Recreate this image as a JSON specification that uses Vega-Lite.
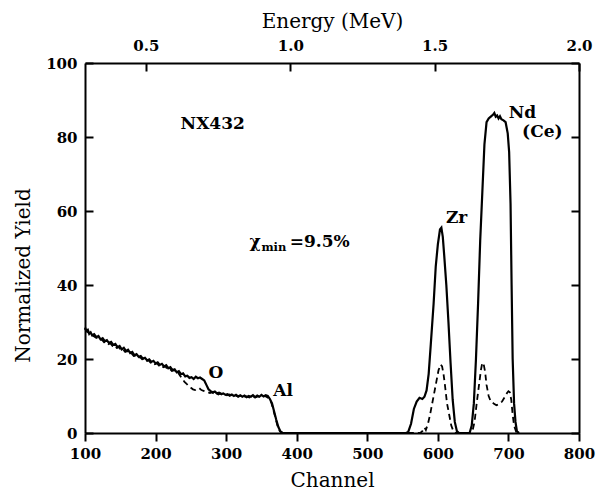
{
  "$schema": "https://vega.github.io/schema/vega-lite/v6.json",
  "width": 494,
  "height": 370,
  "autosize": "none",
  "padding": {"left": 85, "top": 63, "right": 21, "bottom": 60},
  "background": "white",
  "config": {
    "view": {"stroke": null},
    "axis": {
      "labelFont": "DejaVu Serif", "labelFontWeight": "bold", "labelFontSize": 15, "labelColor": "black",
      "titleFont": "DejaVu Serif", "titleFontWeight": "normal", "titleFontSize": 20, "titleColor": "black",
      "domainColor": "black", "domainWidth": 2, "tickColor": "black", "tickWidth": 2,
      "grid": false, "labelFlush": false, "labelOverlap": false
    },
    "text": {"font": "DejaVu Serif", "fontWeight": "bold", "color": "black"}
  },
  "datasets": {
    "solid": [
      {"ch":100,"y":28.5},{"ch":102,"y":27.6},{"ch":104,"y":27.9},{"ch":106,"y":26.8},{"ch":108,"y":27.2},{"ch":110,"y":26.4},
      {"ch":113,"y":26.7},{"ch":116,"y":25.9},{"ch":119,"y":26.2},{"ch":122,"y":25.3},{"ch":125,"y":25.6},{"ch":128,"y":24.8},
      {"ch":131,"y":25.1},{"ch":134,"y":24.3},{"ch":137,"y":24.6},{"ch":140,"y":23.8},{"ch":143,"y":24.1},{"ch":146,"y":23.2},
      {"ch":149,"y":23.5},{"ch":152,"y":22.6},{"ch":155,"y":23.0},{"ch":158,"y":22.2},{"ch":161,"y":22.5},{"ch":164,"y":21.6},
      {"ch":167,"y":21.9},{"ch":170,"y":21.0},{"ch":173,"y":21.3},{"ch":176,"y":20.6},{"ch":179,"y":20.8},{"ch":182,"y":20.1},
      {"ch":185,"y":20.3},{"ch":188,"y":19.6},{"ch":191,"y":19.9},{"ch":194,"y":19.2},{"ch":197,"y":19.5},{"ch":200,"y":18.8},
      {"ch":203,"y":19.1},{"ch":206,"y":18.4},{"ch":209,"y":18.7},{"ch":212,"y":18.0},{"ch":215,"y":18.3},{"ch":218,"y":17.5},
      {"ch":221,"y":17.8},{"ch":224,"y":17.0},{"ch":227,"y":17.2},{"ch":230,"y":16.4},{"ch":233,"y":16.7},{"ch":236,"y":15.9},
      {"ch":239,"y":16.1},{"ch":242,"y":15.3},{"ch":245,"y":15.5},{"ch":248,"y":14.9},{"ch":251,"y":15.1},{"ch":254,"y":14.6},
      {"ch":257,"y":15.2},{"ch":260,"y":14.8},{"ch":263,"y":15.0},{"ch":266,"y":14.6},{"ch":269,"y":14.2},{"ch":272,"y":13.0},
      {"ch":275,"y":11.8},{"ch":278,"y":11.3},{"ch":281,"y":11.0},{"ch":284,"y":11.2},{"ch":287,"y":10.7},{"ch":290,"y":10.9},
      {"ch":293,"y":10.5},{"ch":296,"y":10.7},{"ch":299,"y":10.3},{"ch":302,"y":10.5},{"ch":305,"y":10.1},{"ch":308,"y":10.4},
      {"ch":311,"y":10.0},{"ch":314,"y":10.3},{"ch":317,"y":9.9},{"ch":320,"y":10.2},{"ch":323,"y":9.8},{"ch":326,"y":10.1},
      {"ch":329,"y":9.7},{"ch":332,"y":10.0},{"ch":335,"y":9.8},{"ch":338,"y":10.2},{"ch":341,"y":9.7},{"ch":344,"y":10.1},
      {"ch":347,"y":9.8},{"ch":350,"y":10.3},{"ch":353,"y":9.9},{"ch":356,"y":10.2},{"ch":359,"y":10.0},{"ch":362,"y":9.2},
      {"ch":365,"y":8.0},{"ch":368,"y":5.8},{"ch":371,"y":3.6},{"ch":374,"y":1.6},{"ch":377,"y":0.4},{"ch":380,"y":0},
      {"ch":555,"y":0},{"ch":558,"y":0.3},{"ch":562,"y":2.5},{"ch":566,"y":6.5},{"ch":570,"y":8.5},{"ch":574,"y":9.5},
      {"ch":578,"y":9.2},{"ch":581,"y":9.8},{"ch":584,"y":11.5},{"ch":587,"y":16},{"ch":590,"y":24},{"ch":594,"y":35},
      {"ch":597,"y":45},{"ch":600,"y":51},{"ch":603,"y":55},{"ch":605,"y":55.5},{"ch":607,"y":53},{"ch":609,"y":48},
      {"ch":612,"y":40},{"ch":615,"y":30},{"ch":618,"y":19},{"ch":621,"y":9},{"ch":624,"y":3},{"ch":627,"y":0.5},
      {"ch":630,"y":0},{"ch":645,"y":0},{"ch":648,"y":2},{"ch":651,"y":8},{"ch":654,"y":20},{"ch":657,"y":35},
      {"ch":660,"y":52},{"ch":663,"y":65},{"ch":666,"y":78},{"ch":669,"y":84},{"ch":672,"y":85},{"ch":675,"y":85.5},
      {"ch":678,"y":86},{"ch":680,"y":86.5},{"ch":682,"y":85.5},{"ch":684,"y":85.8},{"ch":686,"y":85.0},{"ch":688,"y":85.6},
      {"ch":690,"y":84.8},{"ch":693,"y":84.5},{"ch":696,"y":84},{"ch":699,"y":81},{"ch":701,"y":76},{"ch":703,"y":62},
      {"ch":704.5,"y":40},{"ch":706,"y":20},{"ch":708,"y":8},{"ch":710,"y":3},{"ch":712,"y":0.5},{"ch":715,"y":0}
    ],
    "dashed": [
      {"ch":100,"y":28.2},{"ch":103,"y":27.4},{"ch":106,"y":27.0},{"ch":109,"y":26.5},{"ch":112,"y":26.2},{"ch":115,"y":25.8},
      {"ch":118,"y":25.6},{"ch":121,"y":25.0},{"ch":124,"y":25.2},{"ch":127,"y":24.5},{"ch":130,"y":24.6},{"ch":133,"y":24.0},
      {"ch":136,"y":24.2},{"ch":139,"y":23.5},{"ch":142,"y":23.7},{"ch":145,"y":23.0},{"ch":148,"y":23.2},{"ch":151,"y":22.4},
      {"ch":154,"y":22.6},{"ch":157,"y":21.9},{"ch":160,"y":22.1},{"ch":163,"y":21.4},{"ch":166,"y":21.5},{"ch":169,"y":20.8},
      {"ch":172,"y":21.0},{"ch":175,"y":20.3},{"ch":178,"y":20.5},{"ch":181,"y":19.9},{"ch":184,"y":20.0},{"ch":187,"y":19.4},
      {"ch":190,"y":19.6},{"ch":193,"y":19.0},{"ch":196,"y":19.2},{"ch":199,"y":18.6},{"ch":202,"y":18.8},{"ch":205,"y":18.2},
      {"ch":208,"y":18.4},{"ch":211,"y":17.8},{"ch":214,"y":18.0},{"ch":217,"y":17.2},{"ch":220,"y":17.4},{"ch":223,"y":16.8},
      {"ch":226,"y":17.0},{"ch":229,"y":16.2},{"ch":232,"y":16.3},{"ch":235,"y":15.4},{"ch":238,"y":14.6},{"ch":241,"y":13.8},
      {"ch":244,"y":13.3},{"ch":247,"y":12.6},{"ch":250,"y":12.2},{"ch":253,"y":11.8},{"ch":256,"y":11.6},{"ch":259,"y":12.0},
      {"ch":262,"y":12.1},{"ch":265,"y":11.6},{"ch":268,"y":11.4},{"ch":271,"y":11.2},{"ch":274,"y":11.0},{"ch":277,"y":10.8},
      {"ch":280,"y":11.0},{"ch":283,"y":10.6},{"ch":286,"y":10.8},{"ch":289,"y":10.4},{"ch":292,"y":10.7},{"ch":295,"y":10.3},
      {"ch":298,"y":10.5},{"ch":301,"y":10.2},{"ch":305,"y":10.4},{"ch":309,"y":10.0},{"ch":313,"y":10.2},{"ch":317,"y":9.8},
      {"ch":321,"y":10.1},{"ch":325,"y":9.7},{"ch":329,"y":9.9},{"ch":333,"y":9.6},{"ch":337,"y":10.0},{"ch":341,"y":9.6},
      {"ch":345,"y":9.9},{"ch":349,"y":9.7},{"ch":353,"y":10.0},{"ch":357,"y":9.8},{"ch":361,"y":9.3},{"ch":364,"y":8.2},
      {"ch":367,"y":6.2},{"ch":370,"y":4.0},{"ch":373,"y":1.8},{"ch":376,"y":0.5},{"ch":380,"y":0},
      {"ch":575,"y":0},{"ch":578,"y":0.5},{"ch":581,"y":1.5},{"ch":583,"y":0.8},{"ch":586,"y":2.5},{"ch":589,"y":5},
      {"ch":592,"y":8},{"ch":595,"y":11},{"ch":598,"y":14},{"ch":601,"y":17},{"ch":604,"y":18.5},{"ch":606,"y":18},
      {"ch":608,"y":16},{"ch":610,"y":13},{"ch":613,"y":8},{"ch":616,"y":5},{"ch":619,"y":2},{"ch":622,"y":0.5},
      {"ch":625,"y":0},{"ch":646,"y":0},{"ch":649,"y":0.5},{"ch":652,"y":3},{"ch":655,"y":8},{"ch":658,"y":12.5},
      {"ch":661,"y":17},{"ch":663,"y":19},{"ch":665,"y":18.5},{"ch":667,"y":16.5},{"ch":669,"y":13},{"ch":672,"y":10},
      {"ch":675,"y":8.5},{"ch":679,"y":8},{"ch":683,"y":7.5},{"ch":687,"y":7.8},{"ch":691,"y":8.5},{"ch":695,"y":9.8},
      {"ch":698,"y":10.8},{"ch":700,"y":11.3},{"ch":702,"y":11},{"ch":704,"y":9},{"ch":706,"y":5},{"ch":708,"y":2},
      {"ch":711,"y":0.3},{"ch":714,"y":0}
    ],
    "labels": [
      {"ch":281,"y":83.5,"t":"NX432"},
      {"ch":285.6,"y":16.2,"t":"O"},
      {"ch":380.6,"y":11.4,"t":"Al"},
      {"ch":626.6,"y":58,"t":"Zr"},
      {"ch":720,"y":86.6,"t":"Nd"},
      {"ch":748,"y":81.4,"t":"(Ce)"}
    ],
    "chimain": [
      {"ch":333,"y":50.3,"t":"χ"},
      {"ch":390,"y":50.3,"t":"=9.5%"}
    ],
    "chisub": [
      {"ch":350,"y":49.3,"t":"min"}
    ],
    "energy": [
      {"e":0.289,"y":0},{"e":2.0,"y":100}
    ]
  },
  "layer": [
    {
      "layer": [
        {
          "data": {"name": "dashed"},
          "mark": {"type": "line", "color": "black", "strokeWidth": 1.8, "strokeDash": [6, 4]},
          "encoding": {
            "x": {"field": "ch", "type": "quantitative", "scale": {"domain": [100, 800], "nice": false, "zero": false},
              "axis": {"orient": "bottom", "values": [100,200,300,400,500,600,700,800], "tickSize": 8, "labelPadding": 5,
                "title": "Channel", "titleY": 53, "titleBaseline": "alphabetic"}},
            "y": {"field": "y", "type": "quantitative", "scale": {"domain": [0, 100], "nice": false},
              "axis": {"orient": "left", "values": [0,20,40,60,80,100], "tickSize": -8, "labelPadding": 16,
                "title": "Normalized Yield", "titleX": -52, "titleY": 212}}
          }
        },
        {
          "data": {"name": "solid"},
          "mark": {"type": "line", "color": "black", "strokeWidth": 2.2},
          "encoding": {
            "x": {"field": "ch", "type": "quantitative"},
            "y": {"field": "y", "type": "quantitative"}
          }
        },
        {
          "data": {"name": "labels"},
          "mark": {"type": "text", "fontSize": 17, "align": "center", "baseline": "middle"},
          "encoding": {
            "x": {"field": "ch", "type": "quantitative"},
            "y": {"field": "y", "type": "quantitative"},
            "text": {"field": "t"}
          }
        },
        {
          "data": {"name": "chimain"},
          "mark": {"type": "text", "fontSize": 17, "align": "left", "baseline": "alphabetic"},
          "encoding": {
            "x": {"field": "ch", "type": "quantitative"},
            "y": {"field": "y", "type": "quantitative"},
            "text": {"field": "t"}
          }
        },
        {
          "data": {"name": "chisub"},
          "mark": {"type": "text", "fontSize": 11.5, "align": "left", "baseline": "alphabetic"},
          "encoding": {
            "x": {"field": "ch", "type": "quantitative"},
            "y": {"field": "y", "type": "quantitative"},
            "text": {"field": "t"}
          }
        }
      ]
    },
    {
      "data": {"name": "energy"},
      "mark": {"type": "point", "opacity": 0},
      "encoding": {
        "x": {"field": "e", "type": "quantitative", "scale": {"domain": [0.289, 2.0], "nice": false, "zero": false},
          "axis": {"orient": "top", "values": [0.5, 1.0, 1.5, 2.0], "format": ".1f", "tickSize": -8, "labelPadding": 18,
            "title": "Energy (MeV)", "titleY": -36, "titleBaseline": "alphabetic"}},
        "y": {"field": "y", "type": "quantitative", "scale": {"domain": [0, 100], "nice": false},
          "axis": {"orient": "right", "values": [0,20,40,60,80,100], "tickSize": -8, "labels": false, "title": null}}
      }
    }
  ],
  "resolve": {"scale": {"x": "independent", "y": "independent"}}
}
